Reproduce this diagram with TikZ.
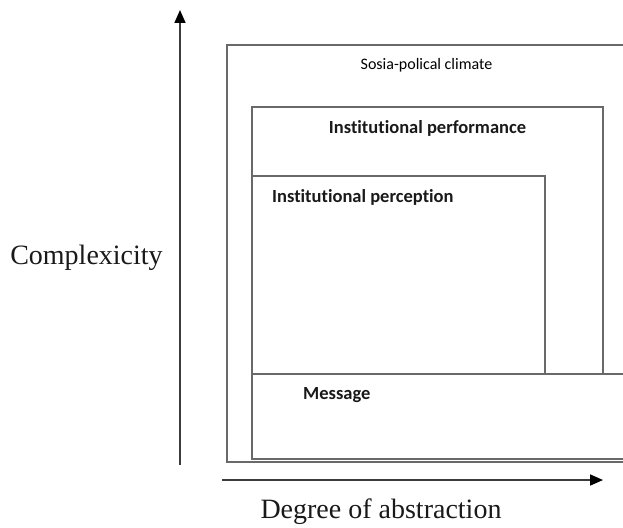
\documentclass[tikz,border=0pt]{standalone}
\usepackage{fontspec}
\setmainfont{Liberation Serif}
\newfontfamily\boxfont[Ligatures=NoCommon]{Carlito}
\usetikzlibrary{arrows.meta,positioning}
\definecolor{frameline}{RGB}{105,105,105}
\definecolor{axisline}{RGB}{60,60,60}
\definecolor{ink}{RGB}{25,25,25}
\tikzset{
  >={Triangle[length=13pt,width=11pt,color=black]},
  frame/.style={draw=frameline,line width=1.6pt,inner sep=0pt,outer sep=0pt,
    minimum width=#1},
  axis/.style={->,draw=axisline,line width=1.7pt},
  axis label/.style={font=\fontsize{28}{30}\selectfont,text=ink},
  level/.style={font=\boxfont\bfseries\fontsize{18.5}{20}\selectfont,text=ink,inner sep=0pt},
  outer level/.style={font=\boxfont\fontsize{16}{18}\selectfont,text=black,inner sep=0pt},
}

\begin{document}
\begin{tikzpicture}[x=1pt,y=-1pt]
  \useasboundingbox (0,0) rectangle (623,527);
  \clip (0,0) rectangle (623,527);
  % nested levels
  \node[frame=403pt,minimum height=417pt] (climate) at (428.5,253.5) {};
  \node[frame=351pt,minimum height=267pt] (performance) at (427.5,240.5) {};
  \node[frame=293pt,minimum height=198pt] (perception) at (398.5,275) {};
  \node[frame=378pt,minimum height=85pt,fill=white] (message) at (441,416.5) {};
  \node[outer level] (climate label) at ([xshift=-2pt,yshift=-20pt]climate.north) {Sosia-polical climate};
  \node[level] (performance label) at ([yshift=-21pt]performance.north) {Institutional performance};
  \node[level,anchor=west] (perception label) at ([xshift=20pt,yshift=-21pt]perception.north west) {Institutional perception};
  \node[level,anchor=west] (message label) at ([xshift=51pt,yshift=-21pt]message.north west) {Message};
  % axes
  \coordinate (v0) at (180,465);
  \coordinate (v1) at (180,10);
  \coordinate (h0) at (222,480);
  \coordinate (h1) at (603,480);
  \draw[axis] (v0) -- (v1);
  \draw[axis] (h0) -- (h1);
  \node[axis label] (complexity) at (86.5,258) {Complexicity};
  \node[axis label] (abstraction) at (381,512) {Degree of abstraction};
\end{tikzpicture}
\end{document}
